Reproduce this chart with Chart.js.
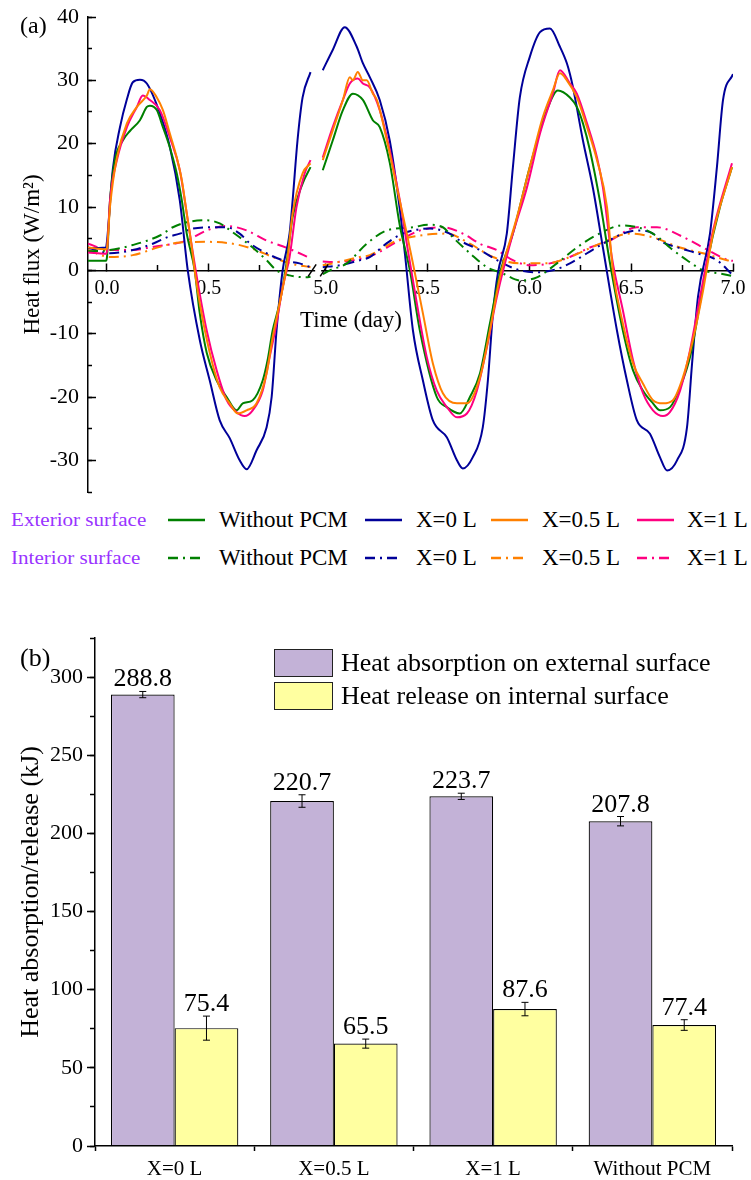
<!DOCTYPE html>
<html>
<head>
<meta charset="utf-8">
<script src="https://cdn.jsdelivr.net/npm/chart.js@4.4.0/dist/chart.umd.min.js"></script>
<style>
  body { margin: 0; background: #fff; }
  #page { position: relative; width: 751px; height: 1180px; overflow: hidden;
          font-family: 'Liberation Serif', 'Times New Roman', serif; color: #000; }
  canvas { position: absolute; left: 0; }
  .t { position: absolute; white-space: nowrap; }
  .sw { position: absolute; }
</style>
</head>
<body>
<div id="page">
  <canvas id="fluxChart" width="751" height="500" style="top:0"></canvas>
  <div class="t" style="left:20px;top:10px;font-size:24px;line-height:30px">(a)</div>
  <div class="t" style="left:300px;top:306px;font-size:23px;line-height:28px">Time (day)</div>
  <div id="fluxLegend"></div>

  <canvas id="energyChart" width="751" height="580" style="top:600px"></canvas>
  <div class="t" style="left:20px;top:643px;font-size:26px;line-height:30px">(b)</div>
  <div id="energyLegend"></div>
</div>

<script>
// ---- panel (a): heat flux, axis broken between day 1 and day 5 ----
const BREAK_FROM = 1.0, BREAK_TO = 5.0, BREAK_GAP = 0.075;
const dayMajorTicks = [0, 0.5, 5.0, 5.5, 6.0, 6.5, 7.0];
const dayMinorTicks = [0.25, 0.75, 5.25, 5.75, 6.25, 6.75];
const fluxTicks = [-30, -20, -10, 0, 10, 20, 30, 40];

const seriesNames = ['Without PCM', 'X=0 L', 'X=0.5 L', 'X=1 L'];
const seriesColors = ['#008000', '#000099', '#ff8000', '#ff0080'];

// exterior surface, [day, W/m2]
const extNoPcm = [[-0.093, 1.5], [-0.005, 1.5], [0.0, 2], [0.015, 11], [0.039, 17.4], [0.078, 20.5], [0.113, 22], [0.162, 23.7], [0.196, 25.8], [0.211, 26], [0.245, 25.3], [0.275, 22.6], [0.309, 19.4], [0.343, 15.3], [0.368, 11], [0.392, 5.8], [0.431, 0], [0.456, -6.8], [0.490, -13], [0.539, -17.4], [0.588, -20], [0.637, -22.1], [0.667, -21], [0.716, -20.5], [0.765, -17.4], [0.789, -14.2], [0.814, -9.5], [0.848, -5.2], [0.882, 1.1], [0.912, 8.4], [0.961, 13.7], [1.0, 16.3],
  [4.985, 15.8], [5.034, 20.5], [5.084, 25.3], [5.133, 27.9], [5.182, 26.9], [5.231, 23.7], [5.265, 22.6], [5.314, 17], [5.364, 7], [5.413, 0], [5.462, -9.5], [5.545, -20], [5.594, -21.6], [5.658, -22.6], [5.708, -20], [5.757, -16.3], [5.806, -8.4], [5.855, -0.5], [5.919, 5.8], [6.002, 16.3], [6.086, 25.3], [6.140, 28.4], [6.199, 27.3], [6.233, 25.8], [6.263, 23.2], [6.297, 19], [6.346, 11], [6.396, 1.1], [6.459, -9.5], [6.509, -15.8], [6.558, -19], [6.607, -21], [6.642, -22.1], [6.691, -21.6], [6.740, -18.5], [6.789, -13.7], [6.838, -5.2], [6.872, 1.1], [6.936, 10], [6.995, 16.3]];
const extX0 = [[-0.093, 3.5], [-0.005, 3.6], [0.0, 4.5], [0.029, 16], [0.064, 22.6], [0.098, 27], [0.127, 29.7], [0.162, 30.1], [0.196, 29.5], [0.260, 24.8], [0.309, 19.5], [0.358, 11], [0.397, 0], [0.456, -11], [0.505, -17.4], [0.554, -23.7], [0.603, -26.5], [0.652, -30], [0.686, -31.4], [0.735, -28.4], [0.784, -24.8], [0.809, -20], [0.833, -9.5], [0.863, 0], [0.897, 5.8], [0.912, 11], [0.936, 20.5], [0.961, 27.3], [1.0, 31.3],
  [4.985, 31.6], [5.034, 34.8], [5.093, 38.4], [5.152, 35.3], [5.182, 32.7], [5.216, 30.5], [5.265, 26.9], [5.314, 20.5], [5.364, 9.5], [5.389, 2.5], [5.428, -9.5], [5.477, -17.4], [5.526, -23.7], [5.595, -26.4], [5.644, -30], [5.673, -31.3], [5.722, -29.5], [5.771, -24.8], [5.796, -17.4], [5.821, -6.8], [5.845, -0.5], [5.889, 5.8], [5.919, 16.3], [5.953, 27.3], [6.002, 33.7], [6.052, 37.6], [6.101, 38.2], [6.150, 35.3], [6.184, 32.7], [6.199, 31], [6.214, 28.9], [6.263, 20.5], [6.312, 13], [6.361, 3.6], [6.430, -9.5], [6.479, -17.4], [6.528, -23.7], [6.592, -25.8], [6.641, -29.5], [6.676, -31.6], [6.725, -30], [6.774, -24.8], [6.799, -14.7], [6.828, -4.2], [6.887, 5.8], [6.921, 16.3], [6.951, 26.9], [7.0, 31]];
const extHalf = [[-0.093, 3.6], [-0.005, 3.3], [0.0, 3.5], [0.015, 10], [0.049, 17.8], [0.098, 23.2], [0.147, 25.8], [0.196, 27.6], [0.211, 28.6], [0.245, 27.3], [0.275, 25.3], [0.309, 21.6], [0.343, 17.8], [0.368, 14.2], [0.392, 9], [0.417, 3.6], [0.431, 0], [0.456, -5.2], [0.505, -13], [0.554, -18.5], [0.603, -21], [0.642, -22.6], [0.686, -22.1], [0.735, -21], [0.784, -16.3], [0.814, -10.6], [0.848, -5.2], [0.882, 0.5], [0.912, 9], [0.961, 15.3], [1.0, 16.9],
  [4.985, 17.4], [5.034, 22.1], [5.084, 26.9], [5.118, 30.5], [5.133, 30], [5.157, 31.3], [5.182, 30], [5.201, 30], [5.231, 27.9], [5.251, 26.9], [5.300, 20.5], [5.349, 13.1], [5.398, 5.8], [5.428, 1.1], [5.477, -6.8], [5.526, -14.7], [5.575, -19.4], [5.644, -21], [5.693, -21], [5.757, -16.9], [5.806, -9.5], [5.855, -1.1], [5.939, 8.4], [6.002, 16.3], [6.066, 24.2], [6.115, 28.4], [6.150, 31.1], [6.184, 30], [6.233, 27.3], [6.283, 22.6], [6.332, 17.4], [6.381, 10], [6.410, 0], [6.459, -8.4], [6.509, -14.7], [6.558, -17.9], [6.607, -20.5], [6.656, -21], [6.705, -20.5], [6.754, -16.9], [6.803, -11], [6.853, -3.2], [6.902, 5.8], [6.995, 16.3]];
const extOne = [[-0.093, 2.8], [-0.005, 2.6], [0.0, 3], [0.015, 11], [0.049, 17.4], [0.098, 22.6], [0.147, 25.8], [0.176, 27.6], [0.211, 26.9], [0.260, 25.3], [0.309, 21], [0.358, 15.8], [0.392, 9], [0.436, 0], [0.490, -9.5], [0.539, -15.8], [0.588, -20.5], [0.637, -22.4], [0.676, -23], [0.716, -22.1], [0.765, -19], [0.799, -13.7], [0.833, -8.4], [0.863, -2.7], [0.897, 2.1], [0.931, 10], [0.971, 15.3], [1.0, 17.4],
  [4.985, 17.8], [5.034, 22.6], [5.084, 26.9], [5.118, 29.5], [5.157, 30.3], [5.182, 29.5], [5.216, 28.9], [5.265, 25.3], [5.314, 19], [5.364, 11], [5.403, 3.2], [5.447, -5.2], [5.496, -13.7], [5.545, -19], [5.595, -21.6], [5.644, -23.2], [5.693, -22.6], [5.742, -19], [5.791, -12.2], [5.840, -4.2], [5.919, 5.8], [5.988, 13.1], [6.052, 21.6], [6.115, 27.9], [6.150, 31.6], [6.199, 29.5], [6.233, 27.9], [6.283, 23.2], [6.332, 17.8], [6.361, 13.1], [6.405, 2.1], [6.459, -6.3], [6.509, -14.2], [6.558, -19.4], [6.607, -22.1], [6.656, -23], [6.690, -22.4], [6.740, -19], [6.789, -12.6], [6.838, -4.2], [6.902, 6.3], [6.995, 16.9]];

// interior surface
const intNoPcm = [[-0.093, 3.0], [0.015, 3.2], [0.127, 4.0], [0.260, 5.5], [0.324, 6.8], [0.392, 7.6], [0.490, 7.9], [0.554, 7.4], [0.618, 6.0], [0.716, 3.6], [0.784, 1.6], [0.833, 0], [0.897, -0.8], [0.980, -1.1], [1.0, -1.0],
  [4.985, -0.6], [5.020, 0], [5.103, 1.1], [5.201, 4.2], [5.300, 6.3], [5.428, 6.8], [5.501, 7.2], [5.575, 6.8], [5.624, 5.2], [5.708, 2.7], [5.791, 0.5], [5.870, -0.5], [5.953, -1.6], [6.037, -1.1], [6.135, 1.1], [6.233, 3.6], [6.332, 5.6], [6.459, 7.1], [6.577, 6.3], [6.641, 5.0], [6.690, 3.6], [6.774, 1.6], [6.853, 0], [6.936, -0.5], [7.0, -0.9]];
const intX0 = [[-0.093, 3.6], [0.015, 2.7], [0.127, 3.2], [0.225, 4.2], [0.294, 5.2], [0.358, 5.8], [0.422, 6.6], [0.520, 6.8], [0.588, 6.8], [0.652, 5.8], [0.701, 4.3], [0.784, 2.7], [0.863, 1.6], [0.946, 1.1], [1.0, 0.5],
  [4.985, 0.5], [5.069, 0.8], [5.167, 1.6], [5.216, 2.1], [5.300, 4.3], [5.378, 5.8], [5.511, 6.6], [5.609, 5.8], [5.658, 4.7], [5.757, 3.2], [5.870, 1.1], [5.953, 0], [6.037, -0.3], [6.115, 0], [6.199, 1.1], [6.283, 2.7], [6.361, 4.2], [6.459, 5.8], [6.528, 6.3], [6.607, 5.8], [6.641, 4.7], [6.740, 3.5], [6.823, 2.7], [6.921, 1.6], [7.0, -0.8]];
const intHalf = [[-0.093, 3.2], [0.015, 2.1], [0.127, 2.4], [0.260, 3.7], [0.358, 4.4], [0.490, 4.5], [0.618, 4.2], [0.716, 3.4], [0.814, 2.1], [0.897, 1.1], [1.0, 0.5],
  [4.985, 0.8], [5.034, 1.1], [5.167, 2.1], [5.216, 2.4], [5.349, 4.7], [5.462, 5.5], [5.595, 5.8], [5.708, 4.2], [5.821, 2.1], [5.953, 1.1], [6.086, 1.1], [6.199, 2.1], [6.332, 4.0], [6.494, 5.8], [6.607, 5.2], [6.740, 3.6], [6.853, 2.7], [6.971, 1.6], [7.0, 1.4]];
const intOne = [[-0.093, 4.2], [0.015, 3.2], [0.127, 3.2], [0.225, 3.7], [0.392, 4.7], [0.490, 6.3], [0.588, 7.0], [0.686, 6.3], [0.784, 4.7], [0.863, 3.8], [0.946, 2.7], [1.0, 1.9],
  [4.985, 1.4], [5.034, 1.3], [5.133, 1.6], [5.231, 2.4], [5.349, 4.5], [5.462, 6.3], [5.575, 6.8], [5.673, 5.8], [5.757, 4.2], [5.840, 3.2], [5.919, 1.6], [6.002, 0.8], [6.101, 1.1], [6.199, 2.1], [6.297, 3.6], [6.396, 4.7], [6.528, 6.8], [6.627, 6.8], [6.740, 5.5], [6.853, 3.6], [6.980, 1.6], [7.0, 1.5]];

// ---- panel (b): heat absorbed / released ----
const groups = ['X=0 L', 'X=0.5 L', 'X=1 L', 'Without PCM'];
const absorbed = [288.8, 220.7, 223.7, 207.8];
const absorbedErr = [2, 4, 2, 3];
const released = [75.4, 65.5, 87.6, 77.4];
const releasedErr = [7.7, 2.9, 4.3, 3.4];
const energyTicks = [0, 50, 100, 150, 200, 250, 300];

Chart.defaults.font.family = "'Liberation Serif', 'Times New Roman', serif";
Chart.defaults.color = '#000';

function dayToAxis(t) {
  return t <= BREAK_FROM ? t : t - (BREAK_TO - BREAK_FROM) + BREAK_GAP;
}
function axisToDay(v) {
  return v <= BREAK_FROM + 1e-9 ? v : v + (BREAK_TO - BREAK_FROM) - BREAK_GAP;
}
function toPoints(series) {
  const pts = [];
  series.forEach(([t, v], i) => {
    if (i > 0 && series[i - 1][0] <= BREAK_FROM && t > BREAK_FROM) {
      pts.push({ x: BREAK_FROM + BREAK_GAP / 2, y: null });
    }
    pts.push({ x: dayToAxis(t), y: v });
  });
  return pts;
}
function lineSet(label, series, color, dashed) {
  return {
    label, data: toPoints(series), borderColor: color, borderWidth: 2,
    borderDash: dashed ? [10, 5, 2, 5] : [], pointRadius: 0,
    cubicInterpolationMode: 'monotone', spanGaps: false, fill: false
  };
}

// fixed box size, and no extra room for labels hanging over the plot edges
function fixBox(w, h) {
  return s => {
    if (w !== null) s.width = w;
    if (h !== null) s.height = h;
    s.paddingLeft = s.paddingRight = s.paddingTop = s.paddingBottom = 0;
  };
}

const axisBreak = {
  id: 'axisBreak',
  afterDraw(chart) {
    const { ctx, scales: { x, y } } = chart;
    const cx = (x.getPixelForValue(BREAK_FROM) + x.getPixelForValue(dayToAxis(BREAK_TO))) / 2;
    const cy = y.getPixelForValue(0);
    ctx.save();
    ctx.fillStyle = '#fff';
    ctx.fillRect(cx - 3, cy - 2, 6, 4);
    ctx.strokeStyle = '#000';
    ctx.lineWidth = 1.5;
    [-6, 6].forEach(dx => {
      ctx.beginPath();
      ctx.moveTo(cx + dx - 4, cy + 6);
      ctx.lineTo(cx + dx + 4, cy - 6);
      ctx.stroke();
    });
    ctx.restore();
  }
};

const tickGrid = len => ({ drawOnChartArea: false, color: '#000', tickLength: len, tickWidth: 1.5 });

new Chart(document.getElementById('fluxChart'), {
  type: 'line',
  data: {
    datasets: [
      lineSet(seriesNames[2], extHalf, seriesColors[2], false),
      lineSet(seriesNames[3], extOne, seriesColors[3], false),
      lineSet(seriesNames[0], extNoPcm, seriesColors[0], false),
      lineSet(seriesNames[1], extX0, seriesColors[1], false),
      lineSet(seriesNames[0], intNoPcm, seriesColors[0], true),
      lineSet(seriesNames[1], intX0, seriesColors[1], true),
      lineSet(seriesNames[2], intHalf, seriesColors[2], true),
      lineSet(seriesNames[3], intOne, seriesColors[3], true)
    ]
  },
  options: {
    responsive: false,
    animation: false,
    layout: { padding: { top: 17, right: 18, bottom: 8, left: 0 } },
    plugins: { legend: { display: false }, tooltip: { enabled: false } },
    scales: {
      x: {
        type: 'linear', axis: 'x', position: { y: 0 },
        min: -0.093, max: dayToAxis(7.0),
        afterBuildTicks: s => { s.ticks = dayMajorTicks.map(t => ({ value: dayToAxis(t) })); },
        afterFit: fixBox(null, 0),
        grid: tickGrid(-8),
        border: { color: '#000', width: 1.5 },
        ticks: { autoSkip: false, maxRotation: 0, padding: 14, font: { size: 20 },
                 callback: v => axisToDay(v).toFixed(1) }
      },
      xMinor: {
        type: 'linear', axis: 'x', position: { y: 0 },
        min: -0.093, max: dayToAxis(7.0),
        afterBuildTicks: s => { s.ticks = dayMinorTicks.map(t => ({ value: dayToAxis(t) })); },
        afterFit: fixBox(null, 0),
        grid: tickGrid(-5),
        border: { display: false },
        ticks: { display: false }
      },
      y: {
        type: 'linear', axis: 'y', position: 'left', weight: 1,
        min: -35, max: 40,
        afterBuildTicks: s => { s.ticks = fluxTicks.map(v => ({ value: v })); },
        afterFit: fixBox(88, null),
        grid: tickGrid(-8),
        border: { color: '#000', width: 1.5 },
        ticks: { padding: 17, font: { size: 22 } },
        title: { display: true, text: 'Heat flux (W/m²)', font: { size: 23 }, padding: { top: 19, bottom: 0 } }
      },
      yMinor: {
        type: 'linear', axis: 'y', position: 'left', weight: 0,
        min: -35, max: 40,
        afterFit: fixBox(0, null),
        grid: tickGrid(-4),
        border: { display: false },
        ticks: { display: false, stepSize: 5 }
      }
    }
  },
  plugins: [axisBreak]
});

// legend of panel (a)
const legendRows = [
  { title: 'Exterior surface', top: 520, dash: '' },
  { title: 'Interior surface', top: 558, dash: '10 5 2 5' }
];
const sampleLeft = [168, 365, 491, 637];
const textLeft = [219, 416, 542, 687];
const fluxLegend = document.getElementById('fluxLegend');
legendRows.forEach(row => {
  let html = `<div class="t" style="left:11px;top:${row.top - 13}px;font-size:18.5px;line-height:26px;color:#9933ff;transform:scaleX(1.14);transform-origin:left center">${row.title}</div>`;
  seriesNames.forEach((name, i) => {
    html += `<svg class="sw" style="left:${sampleLeft[i]}px;top:${row.top - 2}px" width="37" height="4"><line x1="0" y1="2" x2="37" y2="2" stroke="${seriesColors[i]}" stroke-width="2.5" stroke-dasharray="${row.dash}"/></svg>`;
    html += `<div class="t" style="left:${textLeft[i]}px;top:${row.top - 14}px;font-size:23px;line-height:28px">${name}</div>`;
  });
  fluxLegend.insertAdjacentHTML('beforeend', html);
});

// panel (b)
const errorBars = {
  id: 'errorBars',
  afterDatasetsDraw(chart) {
    const { ctx } = chart;
    const y = chart.scales.y;
    ctx.save();
    ctx.strokeStyle = '#000';
    ctx.lineWidth = 1;
    ctx.fillStyle = '#000';
    ctx.font = "26px 'Liberation Serif', 'Times New Roman', serif";
    ctx.textAlign = 'center';
    ctx.textBaseline = 'alphabetic';
    chart.data.datasets.forEach((ds, di) => {
      chart.getDatasetMeta(di).data.forEach((bar, i) => {
        const v = ds.data[i], e = ds.errors[i];
        const top = y.getPixelForValue(v + e), bot = y.getPixelForValue(v - e);
        ctx.beginPath();
        ctx.moveTo(bar.x, top); ctx.lineTo(bar.x, bot);
        ctx.moveTo(bar.x - 3.5, top); ctx.lineTo(bar.x + 3.5, top);
        ctx.moveTo(bar.x - 3.5, bot); ctx.lineTo(bar.x + 3.5, bot);
        ctx.stroke();
        ctx.fillText(v.toFixed(1), bar.x, top - 5);
      });
    });
    ctx.restore();
  }
};

const barColors = ['#c3b2d7', '#ffffa0'];
const barLabels = ['Heat absorption on external surface', 'Heat release on internal surface'];

new Chart(document.getElementById('energyChart'), {
  type: 'bar',
  data: {
    labels: groups,
    datasets: [
      { label: barLabels[0], data: absorbed, errors: absorbedErr, backgroundColor: barColors[0],
        borderColor: '#000', borderWidth: 1.2, categoryPercentage: 0.8, barPercentage: 1.0 },
      { label: barLabels[1], data: released, errors: releasedErr, backgroundColor: barColors[1],
        borderColor: '#000', borderWidth: 1.2, categoryPercentage: 0.8, barPercentage: 1.0 }
    ]
  },
  options: {
    responsive: false,
    animation: false,
    layout: { padding: { top: 38, right: 19, bottom: 0, left: 0 } },
    plugins: { legend: { display: false }, tooltip: { enabled: false } },
    scales: {
      x: {
        afterFit: fixBox(null, 34),
        grid: { offset: true, drawOnChartArea: false, color: '#000', tickLength: 5, tickWidth: 1.5 },
        border: { color: '#000', width: 1.5, z: 1 },
        ticks: { padding: 6, font: { size: 21 }, maxRotation: 0 }
      },
      y: {
        axis: 'y', position: 'left', weight: 1,
        min: 0, max: 325,
        afterBuildTicks: s => { s.ticks = energyTicks.map(v => ({ value: v })); },
        afterFit: fixBox(95, null),
        grid: tickGrid(8),
        border: { color: '#000', width: 1.5, z: 1 },
        ticks: { padding: 4, font: { size: 22 } },
        title: { display: true, text: 'Heat absorption/release (kJ)', font: { size: 26 }, padding: { top: 16, bottom: 0 } }
      },
      yMinor: {
        type: 'linear', axis: 'y', position: 'left', weight: 0,
        min: 0, max: 325,
        afterFit: fixBox(0, null),
        grid: tickGrid(5),
        border: { display: false },
        ticks: { display: false, stepSize: 25 }
      }
    }
  },
  plugins: [errorBars]
});

// legend of panel (b)
const energyLegend = document.getElementById('energyLegend');
barLabels.forEach((label, i) => {
  const top = 649 + i * 33;
  energyLegend.insertAdjacentHTML('beforeend',
    `<div class="sw" style="left:274px;top:${top}px;width:59px;height:28px;box-sizing:border-box;border:1.5px solid #222;background:${barColors[i]}"></div>` +
    `<div class="t" style="left:341px;top:${top - 1}px;font-size:26px;line-height:30px">${label}</div>`);
});
</script>
</body>
</html>
